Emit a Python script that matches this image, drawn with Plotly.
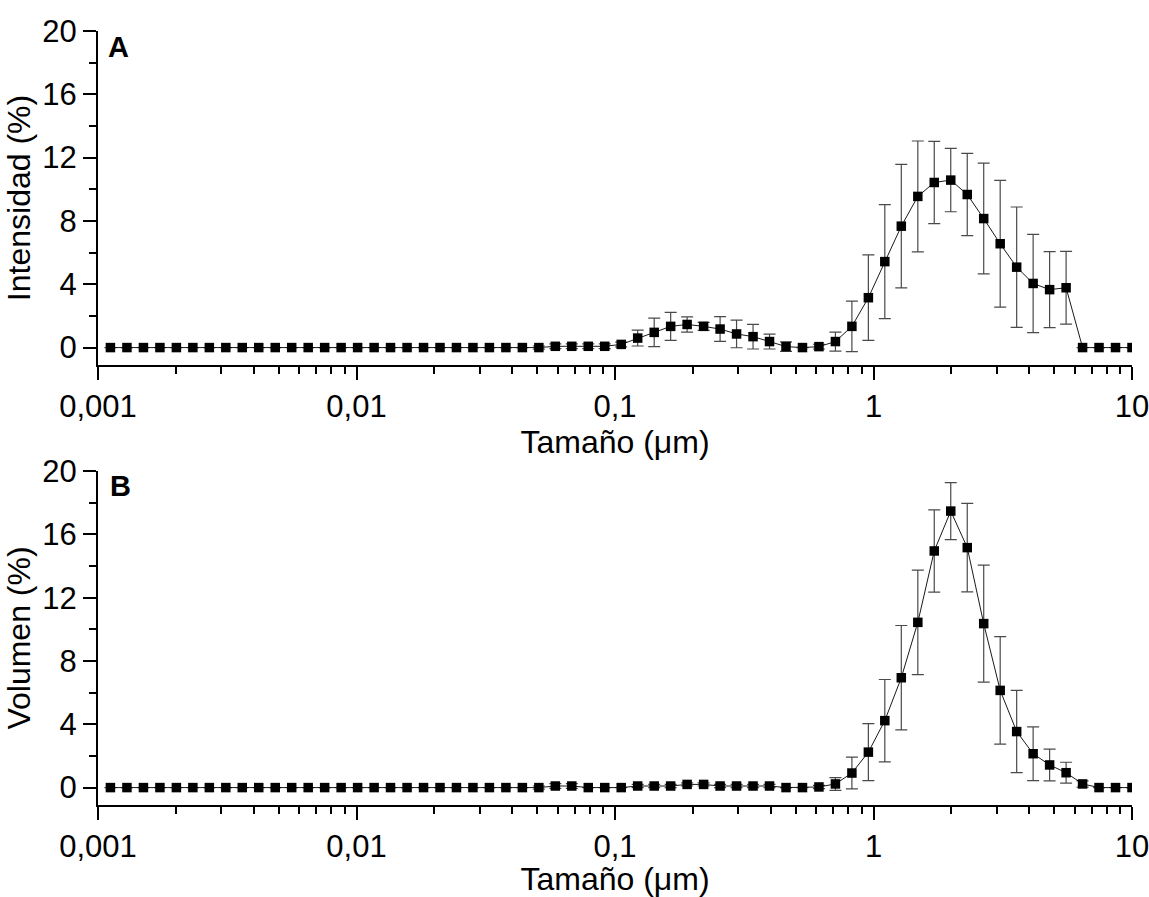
import plotly.graph_objects as go

# Size classes (um)
size_um = [0.001117, 0.001294, 0.001499, 0.001736, 0.002010, 0.002328, 0.002696, 0.003122,
           0.003615, 0.004187, 0.004849, 0.005615, 0.006503, 0.007531, 0.008721, 0.01010,
           0.01170, 0.01354, 0.01569, 0.01817, 0.02104, 0.02436, 0.02821, 0.03267,
           0.03784, 0.04382, 0.05075, 0.05877, 0.06806, 0.07882, 0.09128, 0.1057,
           0.1224, 0.1418, 0.1642, 0.1901, 0.2202, 0.2550, 0.2953, 0.3420,
           0.3961, 0.4587, 0.5312, 0.6151, 0.7124, 0.8250, 0.9554, 1.106,
           1.281, 1.484, 1.718, 1.990, 2.305, 2.669, 3.091, 3.580,
           4.145, 4.801, 5.560, 6.439, 7.456, 8.635, 10.00]

intensidad = [0, 0, 0, 0, 0, 0, 0, 0,
              0, 0, 0, 0, 0, 0, 0, 0,
              0, 0, 0, 0, 0, 0, 0, 0,
              0, 0, 0, 0.08, 0.08, 0.08, 0.08, 0.2,
              0.6, 0.96, 1.34, 1.46, 1.34, 1.17, 0.86, 0.69,
              0.38, 0.06, 0, 0.06, 0.38, 1.34, 3.15, 5.43,
              7.67, 9.55, 10.43, 10.58, 9.67, 8.15, 6.56, 5.08,
              4.05, 3.66, 3.78, 0, 0, 0, 0]
intensidad_err = [0, 0, 0, 0, 0, 0, 0, 0,
                  0, 0, 0, 0, 0, 0, 0, 0,
                  0, 0, 0, 0, 0, 0, 0, 0,
                  0, 0, 0.1, 0.15, 0.15, 0.15, 0.15, 0.15,
                  0.5, 0.9, 0.88, 0.48, 0.25, 0.78, 0.87, 0.78,
                  0.47, 0.3, 0, 0.15, 0.6, 1.6, 2.7, 3.6,
                  3.9, 3.5, 2.6, 2.0, 2.6, 3.5, 4.0, 3.8,
                  3.1, 2.4, 2.3, 0, 0, 0, 0]

volumen = [0, 0, 0, 0, 0, 0, 0, 0,
           0, 0, 0, 0, 0, 0, 0, 0,
           0, 0, 0, 0, 0, 0, 0, 0,
           0, 0, 0, 0.1, 0.1, 0, 0, 0,
           0.1, 0.1, 0.1, 0.2, 0.2, 0.1, 0.1, 0.1,
           0.1, 0, 0, 0.04, 0.23, 0.92, 2.24, 4.23,
           6.94, 10.44, 14.95, 17.47, 15.16, 10.36, 6.14, 3.54,
           2.14, 1.43, 0.94, 0.23, 0, 0, 0]
volumen_err = [0, 0, 0, 0, 0, 0, 0, 0,
               0, 0, 0, 0, 0, 0, 0, 0,
               0, 0, 0, 0, 0, 0, 0, 0,
               0, 0, 0.1, 0.15, 0.15, 0, 0, 0,
               0.1, 0.1, 0.1, 0.1, 0.1, 0.1, 0.1, 0.1,
               0.1, 0, 0, 0.1, 0.4, 1.0, 1.8, 2.6,
               3.3, 3.3, 2.6, 1.8, 2.8, 3.7, 3.4, 2.6,
               1.7, 1.0, 0.66, 0.2, 0, 0, 0]

x_tickvals = [0.001, 0.01, 0.1, 1, 10]
x_ticktext = ["0,001", "0,01", "0,1", "1", "10"]
y_tickvals = [0, 4, 8, 12, 16, 20]
y_minor = [2, 6, 10, 14, 18]

FONT = "Arial, Liberation Sans, sans-serif"
x_minor = [m * 10 ** e for e in range(-3, 1) for m in range(2, 10)]

fig = go.Figure()


def add_series(y, err, xa, ya):
    fig.add_trace(go.Scatter(
        x=size_um, y=y, xaxis=xa, yaxis=ya, mode="lines+markers",
        line=dict(color="black", width=0.9),
        marker=dict(symbol="square", size=9.5, color="black"),
        error_y=dict(type="data", array=err, visible=True, color="#4a4a4a",
                     thickness=1.2, width=6),
        showlegend=False))


add_series(intensidad, intensidad_err, "x", "y")
add_series(volumen, volumen_err, "x2", "y2")

xcommon = dict(type="log", range=[-3, 1], tickvals=x_tickvals, ticktext=x_ticktext,
               showline=True, linecolor="black", linewidth=2, ticks="outside",
               ticklen=13, tickwidth=2, tickcolor="black", showgrid=False,
               zeroline=False, mirror=False, automargin=False,
               ticklabeloverflow="allow",
               tickfont=dict(family=FONT, size=31, color="black"),
               minor=dict(tickvals=x_minor, ticks="outside", ticklen=7,
                          tickwidth=2, tickcolor="black", showgrid=False),
               title=dict(text="Tamaño (μm)", font=dict(family=FONT, size=32, color="black"),
                          standoff=4))
ycommon = dict(range=[-1.1, 20], tickvals=y_tickvals, showline=True, linecolor="black",
               linewidth=2, ticks="outside", ticklen=13, tickwidth=2, tickcolor="black",
               showgrid=False, zeroline=False, automargin=False,
               ticklabeloverflow="allow",
               tickfont=dict(family=FONT, size=31, color="black"),
               minor=dict(tickvals=y_minor, ticks="outside", ticklen=7,
                          tickwidth=2, tickcolor="black", showgrid=False))

fig.update_layout(
    width=1149, height=897,
    margin=dict(l=98, r=17, t=31, b=92, autoexpand=False),
    paper_bgcolor="white", plot_bgcolor="white",
    font=dict(family=FONT, color="black"),
    xaxis=dict(**xcommon, anchor="y", domain=[0, 1]),
    yaxis=dict(**ycommon, anchor="x", domain=[0.5685, 1],
               title=dict(text="Intensidad (%)", font=dict(family=FONT, size=32, color="black"),
                          standoff=2)),
    xaxis2=dict(**xcommon, anchor="y2", domain=[0, 1]),
    yaxis2=dict(**ycommon, anchor="x2", domain=[0, 0.4315],
                title=dict(text="Volumen (%)", font=dict(family=FONT, size=32, color="black"),
                           standoff=2)),
    annotations=[
        dict(text="<b>A</b>", xref="paper", yref="paper", x=0.0077, y=0.9793,
             xanchor="left", yanchor="middle", showarrow=False,
             font=dict(family=FONT, size=29, color="black")),
        dict(text="<b>B</b>", xref="paper", yref="paper", x=0.0097, y=0.4121,
             xanchor="left", yanchor="middle", showarrow=False,
             font=dict(family=FONT, size=29, color="black")),
    ],
)

fig.write_html("out.html")
